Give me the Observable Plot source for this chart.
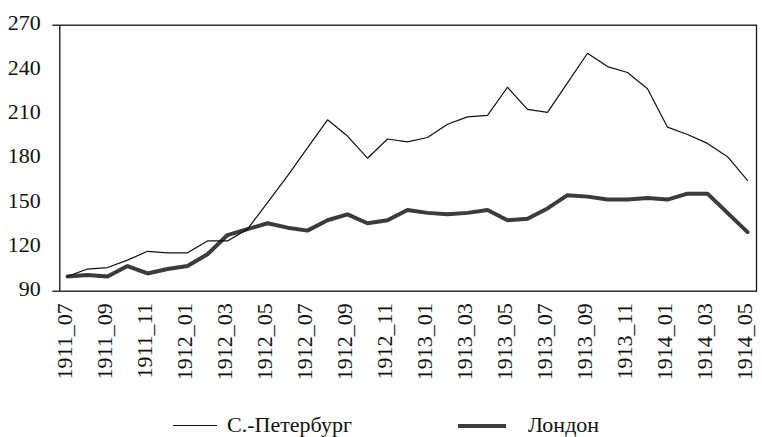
<!DOCTYPE html>
<html>
<head>
<meta charset="utf-8">
<script src="https://cdn.jsdelivr.net/npm/d3@7"></script>
<script src="https://cdn.jsdelivr.net/npm/@observablehq/plot@0.6"></script>
<style>
  html, body { margin: 0; padding: 0; background: #fff; }
  #wrap { position: relative; width: 762px; height: 437px; font-family: 'Liberation Serif', 'Times New Roman', serif; }
  .leg { position: absolute; top: 413px; height: 24px; font-size: 22px; color: #111; line-height: 24px; white-space: nowrap; font-family: 'Liberation Serif', 'Times New Roman', serif; }
  .sw { position: absolute; }
</style>
</head>
<body>
<div id="wrap">
  <div id="chart"></div>
  <div class="leg" style="left:173px;width:44px;"><div class="sw" style="left:0;top:12px;width:44px;border-top:1.2px solid #111;"></div></div>
  <div class="leg" style="left:227px;">С.-Петербург</div>
  <div class="leg" style="left:458px;width:48px;"><div class="sw" style="left:0;top:10.5px;width:48px;border-top:4px solid #3b3b3b;"></div></div>
  <div class="leg" style="left:528px;">Лондон</div>
</div>
<script>
const months = [
  "1911_07","1911_08","1911_09","1911_10","1911_11","1911_12",
  "1912_01","1912_02","1912_03","1912_04","1912_05","1912_06",
  "1912_07","1912_08","1912_09","1912_10","1912_11","1912_12",
  "1913_01","1913_02","1913_03","1913_04","1913_05","1913_06",
  "1913_07","1913_08","1913_09","1913_10","1913_11","1913_12",
  "1914_01","1914_02","1914_03","1914_04","1914_05"
];
const xTickLabels = [
  "1911_07","1911_09","1911_11","1912_01","1912_03","1912_05","1912_07","1912_09","1912_11",
  "1913_01","1913_03","1913_05","1913_07","1913_09","1913_11","1914_01","1914_03","1914_05"
];
const yTicks = [90, 120, 150, 180, 210, 240, 270];
const seriesNames = ["С.-Петербург", "Лондон"];
const stPetersburg = [100,105,106,111,117,116,116,124,124,132,150,168,187,206,195,180,193,191,194,203,208,209,228,213,211,231,251,242,238,227,201,196,190,181,165];
const london = [100,101,100,107,102,105,107,115,128,132,136,133,131,138,142,136,138,145,143,142,143,145,138,139,146,155,154,152,152,153,152,156,156,143,130];

const spbData = months.map((m, i) => ({month: m, value: stPetersburg[i], series: seriesNames[0]}));
const lonData = months.map((m, i) => ({month: m, value: london[i], series: seriesNames[1]}));

const FF = "'Liberation Serif', 'Times New Roman', serif";
const chart = Plot.plot({
  width: 762,
  height: 400,
  marginTop: 24.7,
  marginBottom: 109.3,
  marginLeft: 59.3,
  marginRight: 6,
  style: {fontFamily: FF, fontSize: "22px", color: "#111", background: "#fff"},
  x: {type: "point", domain: months, padding: 0, insetLeft: 7.4, insetRight: 8.7, label: null},
  y: {domain: [90, 270], label: null},
  marks: [
    Plot.axisY({ticks: [90, 270], tickSize: 7, tickFormat: () => "", stroke: "#111", strokeWidth: 1.3}),
    Plot.axisY({ticks: yTicks, tickSize: 0, tickPadding: 19, dy: -2, fill: "#111", fontFamily: FF, fontSize: 22, label: null}),
    Plot.axisX({ticks: xTickLabels, tickSize: 0, tickRotate: -90, tickPadding: 12, dx: -3, fill: "#111", fontFamily: FF, fontSize: 22, label: null}),
    Plot.line(lonData, {x: "month", y: "value", stroke: "#3b3b3b", strokeWidth: 4, strokeLinejoin: "miter"}),
    Plot.line(spbData, {x: "month", y: "value", stroke: "#111", strokeWidth: 1.2}),
    Plot.frame({stroke: "#111", strokeWidth: 1.3})
  ]
});
document.getElementById("chart").appendChild(chart);
</script>
</body>
</html>
